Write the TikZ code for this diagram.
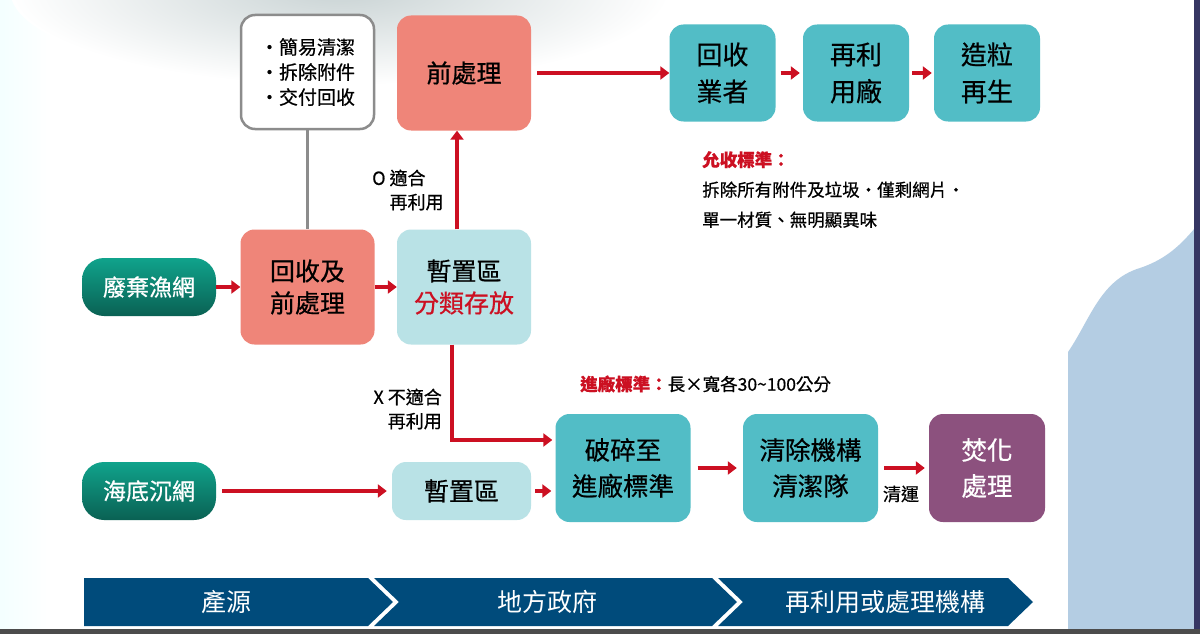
\documentclass[tikz,border=0pt]{standalone}
\usepackage{fontspec}
\setmainfont{Noto Sans CJK TC}
\newfontfamily\heavy{Noto Sans CJK TC}[FakeBold=0.6]
\usetikzlibrary{arrows.meta,positioning}
\definecolor{netred}{HTML}{CC1022}
\definecolor{salmon}{HTML}{EF8579}
\definecolor{tealbox}{HTML}{52BDC6}
\definecolor{paleblue}{HTML}{B9E2E6}
\definecolor{plum}{HTML}{8C517E}
\definecolor{greentop}{HTML}{10A38C}
\definecolor{greenbot}{HTML}{0A6153}
\definecolor{navy}{HTML}{004B7B}
\definecolor{sidebg}{HTML}{B4CDE3}
\definecolor{notegray}{HTML}{8C8C8C}
\definecolor{cloud}{HTML}{C9D3D4}

\begin{document}
\begin{tikzpicture}[x=1pt,y=-1pt,
  box/.style={rounded corners=14pt,align=center,inner sep=0pt,font=\heavy\fontsize{25}{32}\selectfont},
  salmonbox/.style={box,fill=salmon,minimum width=134pt,minimum height=115pt},
  tealtop/.style={box,fill=tealbox,minimum width=106pt,minimum height=97pt,font=\heavy\fontsize{26}{37}\selectfont},
  tealmid/.style={box,fill=tealbox,minimum width=135pt,minimum height=108pt,font=\heavy\fontsize{25.5}{36}\selectfont},
  palebox/.style={box,fill=paleblue,minimum width=134pt},
  netbox/.style={box,rounded corners=22pt,top color=greentop,bottom color=greenbot,text=white,minimum width=134pt,minimum height=58pt,font=\heavy\fontsize{23}{28}\selectfont},
  notebox/.style={box,draw=notegray,line width=2.5pt,fill=white,minimum width=133pt,minimum height=114pt,font=\heavy\fontsize{19}{25}\selectfont},
  arr/.style={draw=netred,line width=3.5pt,-{Triangle[length=9pt,width=13pt]}},
  lab/.style={inner sep=0pt,font=\heavy\fontsize{18}{24}\selectfont},
  note/.style={inner sep=0pt,align=left,font=\heavy\fontsize{17.5}{30}\selectfont},
  band/.style={fill=navy},
  bandtext/.style={text=white,inner sep=0pt,font=\fontsize{25}{30}\selectfont}]
\useasboundingbox (0,0) rectangle (1200,634);
% background
\fill[white] (0,0) rectangle (1200,634);
\fill[left color=white!85!cyan!30,right color=white] (0,0) rectangle (52,634);
\shade[inner color=cloud,outer color=white] (340,-10) ellipse [x radius=330,y radius=95];
\fill[sidebg] (1068,634) -- (1068,352) .. controls (1090,320) and (1100,280) .. (1140,268) .. controls (1170,258) and (1185,240) .. (1200,222) -- (1200,634) -- cycle;
\fill[gray!70!blue!60!black] (1194,0) rectangle (1200,634);
\fill[gray!60!black] (0,629) rectangle (1200,634);

% top row
\node[notebox] (notes) at (307.5,72) {·簡易清潔\\·拆除附件\\·交付回收};
\node[salmonbox] (pre) at (464,73) {前處理};
\node[tealtop] (dealer) at (722.5,73) {回收\\業者};
\node[tealtop] (plant) at (856,73) {再利\\用廠};
\node[tealtop] (pellet) at (987,73) {造粒\\再生};

% middle row
\node[netbox] (waste) at (149,287) {廢棄漁網};
\node[salmonbox] (collect) at (307.5,287) {回收及\\前處理};
\node[palebox,minimum height=115pt] (sort) at (464,287) {暫置區\\\textcolor{netred}{分類存放}};

% bottom row
\node[netbox] (seabed) at (149,491) {海底沉網};
\node[palebox,minimum width=139pt,minimum height=58pt] (hold) at (461.5,491) {暫置區};
\node[tealmid] (crush) at (623,468) {破碎至\\進廠標準};
\node[tealmid] (clear) at (810.5,468) {清除機構\\清潔隊};
\node[tealmid,fill=plum,text=white,minimum width=116pt] (burn) at (987,468) {焚化\\處理};

% connectors
\draw[notegray,line width=3pt] (notes.south) -- (collect.north);
\draw[arr] (waste.east) -- (collect.west);
\draw[arr] (collect.east) -- (sort.west);
\draw[arr] ([xshift=-7pt]sort.north) -- ([xshift=-7pt]pre.south);
\draw[arr,shorten <=6pt] (pre.east) -- (dealer.west);
\draw[arr,shorten <=5pt,shorten >=3pt] (dealer.east) -- (plant.west);
\draw[arr,shorten <=3pt,shorten >=2pt] (plant.east) -- (pellet.west);
\draw[arr,shorten >=3pt] ([xshift=-12pt]sort.south) |- ([yshift=28pt]crush.west);
\draw[arr,shorten <=6pt,shorten >=5pt] (seabed.east) -- (hold.west);
\draw[arr,shorten <=4pt,shorten >=4pt] (hold.east) -- (hold.east -| crush.west);
\draw[arr,shorten <=7pt,shorten >=6pt] (crush.east) -- (clear.west);
\draw[arr,shorten <=6pt,shorten >=4pt] (clear.east) -- (burn.west);

% labels
\node[lab,align=left,anchor=west] (fitok) at (372,190) {O 適合\\\hphantom{O }再利用};
\node[lab,align=right,anchor=east] (fitno) at (442,409) {X 不適合\\再利用};
\node[lab] (haul) at (901,494) {清運};
\node[note,anchor=north west] (accept) at (702,151) {\textcolor{netred}{\bfseries 允收標準：}\\拆除所有附件及垃圾・僅剩網片・\\單一材質、無明顯異味};
\node[note,anchor=west] (intake) at (580,384) {\textcolor{netred}{\bfseries 進廠標準：}長×寬各30\char"007E 100公分};

% stage band
\fill[band] (84,578) -- (368,578) -- (393,602) -- (368,626) -- (84,626) -- cycle;
\fill[band] (374,578) -- (712,578) -- (737,602) -- (712,626) -- (374,626) -- (399,602) -- cycle;
\fill[band] (718,578) -- (1008,578) -- (1033,602) -- (1008,626) -- (718,626) -- (743,602) -- cycle;
\node[bandtext] (src) at (226,602) {產源};
\node[bandtext] (gov) at (547,602) {地方政府};
\node[bandtext] (org) at (885,602) {再利用或處理機構};
\end{tikzpicture}
\end{document}
